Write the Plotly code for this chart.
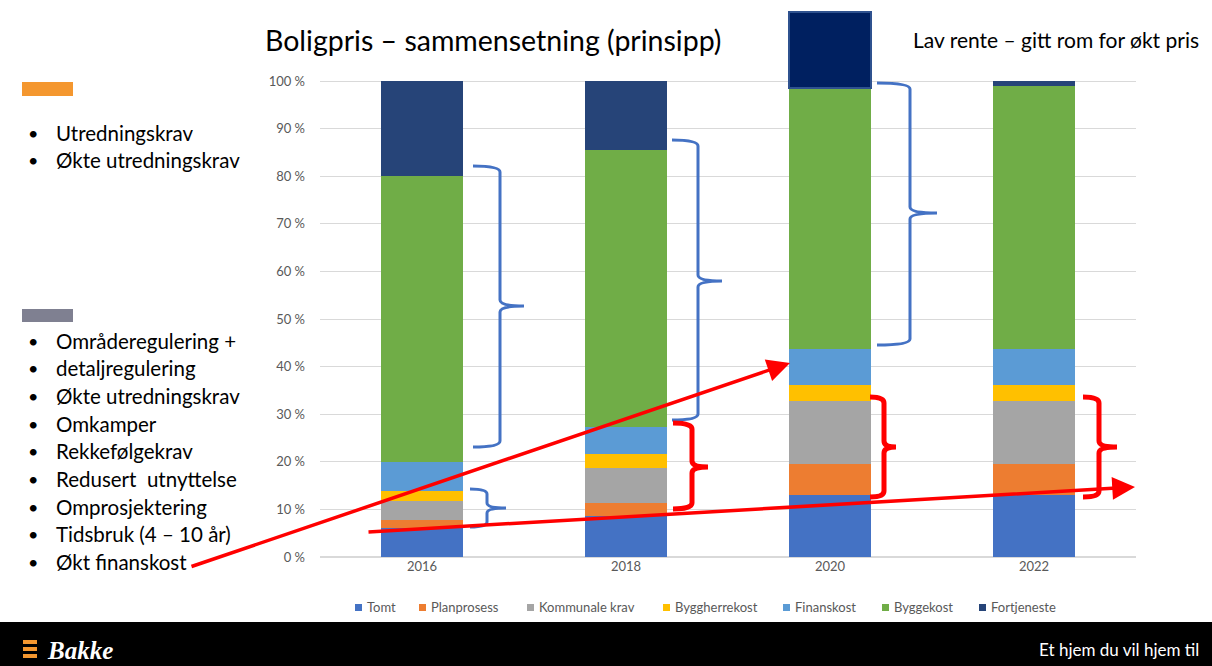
import plotly.graph_objects as go

years = ["2016", "2018", "2020", "2022"]
series_names = ["Tomt", "Planprosess", "Kommunale krav", "Byggherrekost", "Finanskost", "Byggekost", "Fortjeneste"]
tomt = [6.1, 8.6, 13.0, 13.0]
planprosess = [1.7, 2.7, 6.6, 6.6]
kommunale_krav = [4.0, 7.5, 13.2, 13.2]
byggherrekost = [2.1, 2.8, 3.3, 3.3]
finanskost = [6.1, 5.8, 7.7, 7.7]
byggekost = [60.0, 58.1, 54.8, 55.2]
fortjeneste = [20.0, 14.5, 15.9, 1.0]
y_ticks = [0, 10, 20, 30, 40, 50, 60, 70, 80, 90, 100]
y_tick_labels = [f"{v} %" for v in y_ticks]

colors = ["#4472C4", "#ED7D31", "#A5A5A5", "#FFC000", "#5B9BD5", "#70AD47", "#264478"]
values = [tomt, planprosess, kommunale_krav, byggherrekost, finanskost, byggekost, fortjeneste]

FONT = "Lato"
W, H = 1212, 666
L, R, T, B = 320, 76, 5, 109
PW, PH = W - L - R, H - T - B


def PX(x):
    return (x - L) / PW


def PY(y):
    return (H - B - y) / PH


fig = go.Figure()
for name, vals, col in zip(series_names, values, colors):
    mcol = col
    lw = 0
    lcol = col
    if name == "Fortjeneste":
        mcol = [col, col, "#002060", col]
        lw = [0, 0, 1.5, 0]
        lcol = [col, col, "#2F528F", col]
    fig.add_trace(go.Bar(
        x=years, y=vals, name=name,
        marker=dict(color=mcol, line=dict(width=lw, color=lcol)),
        width=0.4, showlegend=False,
    ))

shapes = []
annotations = []


def brace(x0, xs, xt, yt, ym, yb, color, width, r=6):
    p = (f"M {PX(x0)},{PY(yt)} Q {PX(xs)},{PY(yt)} {PX(xs)},{PY(yt + r)} "
         f"L {PX(xs)},{PY(ym - r)} Q {PX(xs)},{PY(ym)} {PX(xt)},{PY(ym)} "
         f"Q {PX(xs)},{PY(ym)} {PX(xs)},{PY(ym + r)} "
         f"L {PX(xs)},{PY(yb - r)} Q {PX(xs)},{PY(yb)} {PX(x0)},{PY(yb)}")
    shapes.append(dict(type="path", path=p, xref="paper", yref="paper",
                       line=dict(color=color, width=width), layer="above"))


BLUE = "#4472C4"
RED = "#FF0000"
brace(473, 500, 524, 166, 306, 447, BLUE, 3)
brace(470, 487, 506, 489, 508, 527, BLUE, 3, r=5)
brace(672, 698, 722, 140, 281, 420, BLUE, 3)
brace(877, 910, 937, 83, 213, 345, BLUE, 3)
brace(673, 692, 708, 423, 467, 509, RED, 5)
brace(870, 884, 896, 397, 447, 497, RED, 5)
brace(1083, 1099, 1117, 397, 447, 497, RED, 5)

# red arrows
for (hx, hy, tx, ty) in [(790, 363, 190, 567), (1135, 487, 367, 532)]:
    annotations.append(dict(x=PX(hx), y=PY(hy), xref="paper", yref="paper",
                            ax=tx - hx, ay=ty - hy, text="", showarrow=True,
                            arrowhead=2, arrowsize=1.3, arrowwidth=3.5,
                            arrowcolor=RED, standoff=0, startstandoff=0))

# manual legend
legend_x = [355, 419, 527, 663, 783, 882, 979]
for name, col, lx in zip(series_names, colors, legend_x):
    shapes.append(dict(type="rect", xref="paper", yref="paper", x0=PX(lx), x1=PX(lx + 7),
                       y0=PY(611), y1=PY(604), fillcolor=col, line=dict(width=0)))
    annotations.append(dict(x=PX(lx + 10), y=PY(607), xref="paper", yref="paper", text=name,
                            showarrow=False, xanchor="left", yanchor="middle",
                            font=dict(family=FONT, size=13, color="#595959")))

# left panel rectangles
shapes.append(dict(type="rect", xref="paper", yref="paper", x0=PX(22), x1=PX(73),
                   y0=PY(96), y1=PY(82), fillcolor="#F4972F", line=dict(width=0)))
shapes.append(dict(type="rect", xref="paper", yref="paper", x0=PX(22), x1=PX(73),
                   y0=PY(322), y1=PY(309), fillcolor="#7F8091", line=dict(width=0)))

bullets_top = ["Utredningskrav", "Økte utredningskrav"]
bullets_bottom = ["Områderegulering +", "detaljregulering", "Økte utredningskrav", "Omkamper",
                  "Rekkefølgekrav", "Redusert  utnyttelse", "Omprosjektering",
                  "Tidsbruk (4 – 10 år)", "Økt finanskost"]
ys_top = [133, 160]
ys_bottom = [341, 368, 396, 424, 451, 479, 507, 534, 562]
for txt, yy in list(zip(bullets_top, ys_top)) + list(zip(bullets_bottom, ys_bottom)):
    annotations.append(dict(x=PX(26), y=PY(yy), xref="paper", yref="paper", text="•",
                            showarrow=False, xanchor="left", yanchor="middle",
                            font=dict(family=FONT, size=18, color="#000000")))
    annotations.append(dict(x=PX(54), y=PY(yy), xref="paper", yref="paper", text=txt.replace("  ", "&nbsp; "),
                            showarrow=False, xanchor="left", yanchor="middle",
                            font=dict(family=FONT, size=20.5, color="#000000")))

# titles
annotations.append(dict(x=PX(263), y=PY(40), xref="paper", yref="paper",
                        text="Boligpris – sammensetning (prinsipp)", showarrow=False,
                        xanchor="left", yanchor="middle",
                        font=dict(family=FONT, size=28.5, color="#000000")))
annotations.append(dict(x=PX(911), y=PY(40), xref="paper", yref="paper",
                        text="Lav rente – gitt rom for økt pris", showarrow=False,
                        xanchor="left", yanchor="middle",
                        font=dict(family=FONT, size=21, color="#000000")))

# footer
shapes.append(dict(type="rect", xref="paper", yref="paper", x0=PX(-5), x1=PX(W + 5),
                   y0=PY(H + 5), y1=PY(622), fillcolor="#000000", line=dict(width=0), layer="above"))
for yb in [640, 647, 654]:
    shapes.append(dict(type="rect", xref="paper", yref="paper", x0=PX(23), x1=PX(37),
                       y0=PY(yb + 4), y1=PY(yb), fillcolor="#F4972F", line=dict(width=0), layer="above"))
annotations.append(dict(x=PX(45), y=PY(650), xref="paper", yref="paper",
                        text="<b><i>Bakke</i></b>", showarrow=False, xanchor="left", yanchor="middle",
                        font=dict(family="Liberation Serif", size=25, color="#FFFFFF")))
annotations.append(dict(x=PX(1201), y=PY(649), xref="paper", yref="paper",
                        text="Et hjem du vil hjem til", showarrow=False, xanchor="right", yanchor="middle",
                        font=dict(family=FONT, size=17, color="#FFFFFF")))

fig.update_layout(
    width=W, height=H, autosize=False,
    margin=dict(l=L, r=R, t=T, b=B),
    paper_bgcolor="white", plot_bgcolor="white",
    barmode="stack",
    showlegend=False,
    xaxis=dict(type="category", showgrid=False, showline=False, ticks="",
               tickfont=dict(family=FONT, size=13, color="#595959")),
    yaxis=dict(range=[0, 116], tickvals=y_ticks, ticktext=y_tick_labels, showgrid=True,
               gridcolor="#D9D9D9", gridwidth=1, zeroline=True, zerolinecolor="#D9D9D9",
               showline=False, ticks="", ticklabelstandoff=14,
               tickfont=dict(family=FONT, size=13, color="#595959")),
    shapes=shapes,
    annotations=annotations,
    font=dict(family=FONT),
)

fig.write_html("out.html")
